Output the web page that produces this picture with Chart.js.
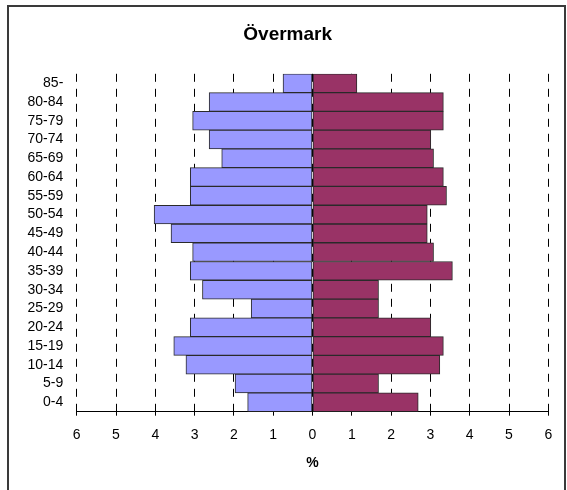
<!DOCTYPE html>
<html>
<head>
<meta charset="utf-8">
<title>Övermark</title>
<script src="https://cdn.jsdelivr.net/npm/chart.js@4.4.1/dist/chart.umd.min.js"></script>
<style>
    html, body { margin: 0; padding: 0; background: #fff; overflow: hidden; }
    #wrap { position: relative; width: 567px; height: 490px; }
</style>
</head>
<body>
<div id="wrap"><canvas id="pyramid" width="567" height="490"></canvas></div>
<script>
// Åldersgrupper, uppifrån och ned
const ageGroups = ['85-', '80-84', '75-79', '70-74', '65-69', '60-64', '55-59', '50-54', '45-49',
    '40-44', '35-39', '30-34', '25-29', '20-24', '15-19', '10-14', '5-9', '0-4'];

// Andel i procent, vänster sida (blå)
const leftValues = [0.75, 2.63, 3.05, 2.63, 2.31, 3.11, 3.11, 4.03, 3.60,
    3.05, 3.11, 2.80, 1.56, 3.11, 3.53, 3.22, 1.97, 1.65];

// Andel i procent, höger sida (vinröd)
const rightValues = [1.13, 3.33, 3.33, 3.01, 3.08, 3.33, 3.41, 2.92, 2.92,
    3.08, 3.56, 1.68, 1.68, 3.01, 3.33, 3.24, 1.68, 2.69];

const FONT = '"Liberation Sans", Arial, sans-serif';

// ram runt hela diagrammet (nedre kanten ligger utanför bilden)
// + rubriken centreras över hela ramen, inte bara över plottytan
const framePlugin = {
    id: 'frame',
    afterLayout(chart) {
        if (chart.titleBlock) chart.titleBlock.left += 27;
    },
    afterDraw(chart) {
        const ctx = chart.ctx;
        ctx.save();
        ctx.strokeStyle = '#3a3a3a';
        ctx.lineWidth = 2;
        ctx.beginPath();
        ctx.moveTo(8, 495);
        ctx.lineTo(8, 6);
        ctx.lineTo(565, 6);
        ctx.lineTo(565, 495);
        ctx.stroke();
        ctx.restore();
    }
};

new Chart(document.getElementById('pyramid'), {
    type: 'bar',
    data: {
        labels: ageGroups,
        datasets: [{
            label: 'Män',
            data: leftValues.map(v => -v),
            backgroundColor: '#9999FF',
            borderColor: '#2a2a2a',
            borderWidth: 1,
            borderSkipped: false,
            barPercentage: 1,
            categoryPercentage: 1
        }, {
            label: 'Kvinnor',
            data: rightValues,
            backgroundColor: '#993366',
            borderColor: '#2a2a2a',
            borderWidth: 1,
            borderSkipped: false,
            barPercentage: 1,
            categoryPercentage: 1
        }]
    },
    options: {
        indexAxis: 'y',
        responsive: false,
        animation: false,
        layout: { padding: { left: 0, right: 18.7, top: 5, bottom: 0 } },
        scales: {
            x: {
                stacked: true,
                min: -6,
                max: 6,
                ticks: {
                    stepSize: 1,
                    padding: 11,
                    color: '#000',
                    font: { family: FONT, size: 14 },
                    callback: value => Math.abs(value)
                },
                grid: { color: '#000', lineWidth: 1, tickLength: 4, tickColor: '#000' },
                border: { display: true, color: '#000', width: 1, dash: [8, 7] },
                title: {
                    display: true,
                    text: '%',
                    color: '#000',
                    font: { family: FONT, size: 14, weight: 'bold' },
                    padding: { top: 0, bottom: 18.6 }
                },
                afterFit: scale => { scale.height = 78.3; }
            },
            y: {
                stacked: true,
                grid: { display: false, drawTicks: false },
                border: { display: false },
                ticks: {
                    autoSkip: false,
                    padding: 13.4,
                    color: '#000',
                    font: { family: FONT, size: 14, lineHeight: 1 }
                },
                afterFit: scale => { scale.width = 76.7; }
            }
        },
        plugins: {
            legend: { display: false },
            tooltip: { enabled: false },
            title: {
                display: true,
                text: 'Övermark',
                color: '#000',
                font: { family: FONT, size: 19, weight: 'bold' },
                padding: { top: 18, bottom: 28 }
            }
        }
    },
    plugins: [framePlugin]
});
</script>
</body>
</html>
